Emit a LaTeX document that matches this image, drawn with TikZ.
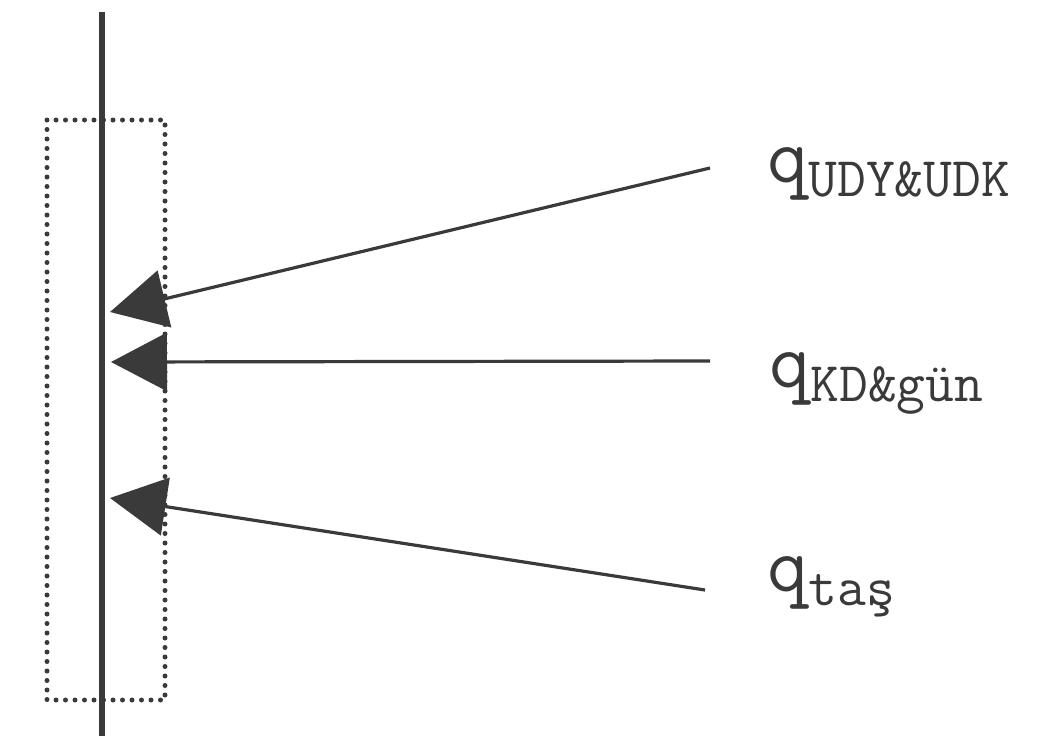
\documentclass[tikz,border=0pt]{standalone}
\usepackage{fontspec}
\usetikzlibrary{arrows.meta}
\definecolor{ink}{HTML}{3A3A3A}
\tikzset{
  wall/.style={draw=ink, line width=5.5pt},
  zone/.style={draw=ink, line width=5pt, line cap=round, dash pattern=on 0pt off 9.5pt},
  flux/.style={draw=ink, line width=3.2pt, -{Triangle[length=56pt,width=58pt]}},
  lbl/.style={anchor=base west, inner sep=0pt, text=ink, font=\ttfamily},
}
\newcommand{\bigq}{{\fontsize{80}{80}\selectfont q}}
\newcommand{\subtxt}[1]{{\fontsize{56}{56}\selectfont\raisebox{-14pt}{#1}}}
\begin{document}
\begin{tikzpicture}[x=1pt,y=-1pt]
\useasboundingbox (0,0) rectangle (1062,736);
% wall and dotted zone
\coordinate (wtop) at (102,12);
\coordinate (wbot) at (102,736);
\draw[wall] (wtop) -- (wbot);
\coordinate (zA) at (47,120);
\coordinate (zB) at (165,700);
\draw[zone] (zA) rectangle (zB);
% arrows
\coordinate (s1) at (710,168);
\coordinate (t1) at (110,312);
\coordinate (s2) at (710,361);
\coordinate (t2) at (111,362);
\coordinate (s3) at (705,590);
\coordinate (t3) at (110,498);
\draw[flux] (s1) -- (t1);
\draw[flux] (s2) -- (t2);
\draw[flux] (s3) -- (t3);
% labels
\node[lbl] (l1) at (767,182) {\bigq\subtxt{UDY\&UDK}};
\node[lbl] (l2) at (769,387) {\bigq\subtxt{KD\&gün}};
\node[lbl] (l3) at (767,591) {\bigq\subtxt{taş}};
\end{tikzpicture}
\end{document}
